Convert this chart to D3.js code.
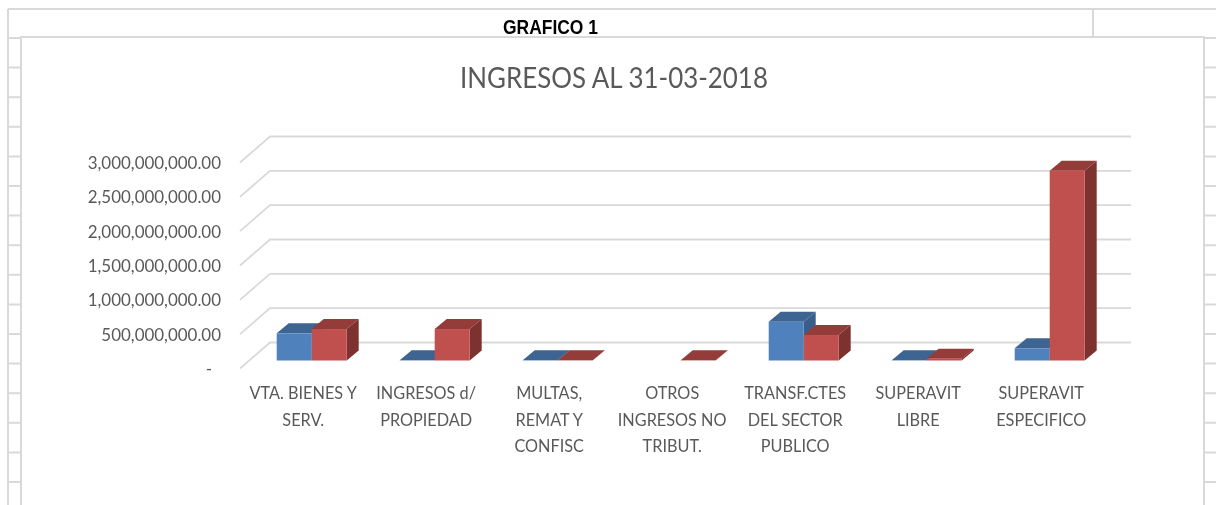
<!DOCTYPE html>
<html>
<head>
<meta charset="utf-8">
<script src="https://cdnjs.cloudflare.com/ajax/libs/d3/7.8.5/d3.min.js"></script>
<style>
  html, body { margin: 0; padding: 0; background: #fff; }
  svg { display: block; filter: blur(0.45px); }
  text { font-family: Lato, "Open Sans", sans-serif; fill: #595959; }
</style>
</head>
<body>
<svg id="chart" width="1216" height="505"></svg>
<script>
// values
var categories = ["VTA", "INGRESOS", "MULTAS", "OTROS", "TRANSF", "LIBRE", "ESPECIFICO"];
var categoryLabels = [
  ["VTA. BIENES Y", "SERV."],
  ["INGRESOS d/", "PROPIEDAD"],
  ["MULTAS,", "REMAT Y", "CONFISC"],
  ["OTROS", "INGRESOS NO", "TRIBUT."],
  ["TRANSF.CTES", "DEL SECTOR", "PUBLICO"],
  ["SUPERAVIT", "LIBRE"],
  ["SUPERAVIT", "ESPECIFICO"]
];
var serieA = [396000000, 3000000, 3000000, null, 565000000, 3000000, 178000000];
var serieB = [458000000, 458000000, 3000000, 3000000, 371000000, 25000000, 2764000000];
var yTicks = [0, 500000000, 1000000000, 1500000000, 2000000000, 2500000000, 3000000000];

var svg = d3.select("#chart"),
    width = +svg.attr("width"),
    height = +svg.attr("height");

var gridColor = "#d9d9d9";

// Lato is wider than the font of the original, so squeeze the text a bit
function squeeze(sel, factor) {
  sel.each(function(){
    var w = this.getComputedTextLength();
    d3.select(this)
      .attr("textLength", w * factor)
      .attr("lengthAdjust", "spacingAndGlyphs");
  });
}

// --- spreadsheet behind the chart ---
var sheet = svg.append("g").attr("stroke", gridColor).attr("stroke-width", 2);
sheet.append("line").attr("x1", 8).attr("x2", width).attr("y1", 9).attr("y2", 9);
sheet.append("line").attr("x1", 8).attr("x2", 8).attr("y1", 9).attr("y2", height);
sheet.append("line").attr("x1", 1093).attr("x2", 1093).attr("y1", 9).attr("y2", 37);
sheet.selectAll("line.row")
  .data(d3.range(38, height, 29.6))
  .enter()
  .append("line")
    .attr("class", "row")
    .attr("x1", 8)
    .attr("x2", width)
    .attr("y1", function(d){ return d })
    .attr("y2", function(d){ return d });

// chart area
svg.append("rect")
  .attr("x", 21).attr("y", 37)
  .attr("width", 1183).attr("height", height)
  .attr("fill", "#fff")
  .attr("stroke", gridColor)
  .attr("stroke-width", 2);

// --- headings ---
svg.append("text")
  .attr("x", 550.5).attr("y", 33.5)
  .attr("text-anchor", "middle")
  .style("font-family", "'Liberation Sans', sans-serif")
  .style("font-weight", "bold")
  .style("font-size", "20.5px")
  .style("fill", "#000")
  .text("GRAFICO 1")
  .attr("textLength", 95)
  .attr("lengthAdjust", "spacingAndGlyphs");

svg.append("text")
  .attr("x", 614).attr("y", 88)
  .attr("text-anchor", "middle")
  .style("font-size", "28px")
  .text("INGRESOS AL 31-03-2018")
  .call(squeeze, 0.925);

// --- scales ---
var depthX = 30, depthY = 26;      // wall offset
var barDX = 12, barDY = 10;        // bar depth
var barInsetY = 8;                 // bars stand a little behind the front edge

var x = d3.scaleBand()
  .domain(categories)
  .range([250.2, 1111.2]);

var y = d3.scaleLinear()
  .domain([0, 3000000000])
  .range([368.5, 162.5]);

var barW = 35;

// --- walls: gridlines ---
svg.append("g")
  .selectAll("path")
  .data(yTicks)
  .enter()
  .append("path")
    .attr("d", function(d){
      return "M240," + y(d) + "L" + (240 + depthX) + "," + (y(d) - depthY) + "H1131";
    })
    .attr("fill", "none")
    .attr("stroke", gridColor)
    .attr("stroke-width", 1.8);

// --- y axis ---
var yAxis = d3.axisLeft(y)
  .tickValues(yTicks)
  .tickSize(0)
  .tickPadding(0)
  .tickFormat(function(d){ return d === 0 ? "-" : d3.format(",.2f")(d) });

var yG = svg.append("g")
  .attr("transform", "translate(221,0.2)")
  .call(yAxis);
yG.select(".domain").remove();
yG.selectAll("text")
  .style("font-family", "Lato, 'Open Sans', sans-serif")
  .style("font-size", "18px")
  .style("fill", "#595959")
  .call(squeeze, 0.94);
yG.selectAll("text")
  .filter(function(d){ return d === 0 })
  .attr("dx", -9);

// --- bars ---
function drawBar(g, bx, v, colors) {
  if (v === null) return;
  var y0 = y(0) - barInsetY,
      y1 = y(v) - barInsetY;
  // top
  g.append("path")
    .attr("d", "M" + bx + "," + y1 + "l" + barDX + "," + (-barDY) + "h" + barW + "l" + (-barDX) + "," + barDY + "z")
    .attr("fill", colors.top);
  // side
  g.append("path")
    .attr("d", "M" + (bx + barW) + "," + y1 + "l" + barDX + "," + (-barDY) + "V" + (y0 - barDY) + "l" + (-barDX) + "," + barDY + "z")
    .attr("fill", colors.side);
  // front
  g.append("rect")
    .attr("x", bx).attr("y", y1)
    .attr("width", barW).attr("height", y0 - y1)
    .attr("fill", colors.front);
}

var blue = { front: "#4f81bd", top: "#3e6592", side: "#3a5e8a" };
var red = { front: "#c0504d", top: "#933c3a", side: "#7d3230" };

var bars = svg.append("g");
categories.forEach(function(c, i){
  var cx = x(c) + x.bandwidth() / 2;
  drawBar(bars, cx - barW, serieA[i], blue);
  drawBar(bars, cx, serieB[i], red);
});

// --- category labels ---
var labelLines = [];
categories.forEach(function(c, i){
  categoryLabels[i].forEach(function(t, k){
    labelLines.push({ c: c, t: t, k: k });
  });
});

svg.append("g")
  .selectAll("text")
  .data(labelLines)
  .enter()
  .append("text")
    .attr("text-anchor", "middle")
    .attr("x", function(d){ return x(d.c) + x.bandwidth() / 2 - 8.5 })
    .attr("y", function(d){ return 399 + d.k * 26.5 })
    .style("font-size", "17.5px")
    .text(function(d){ return d.t })
    .call(squeeze, 0.93);
</script>
</body>
</html>
